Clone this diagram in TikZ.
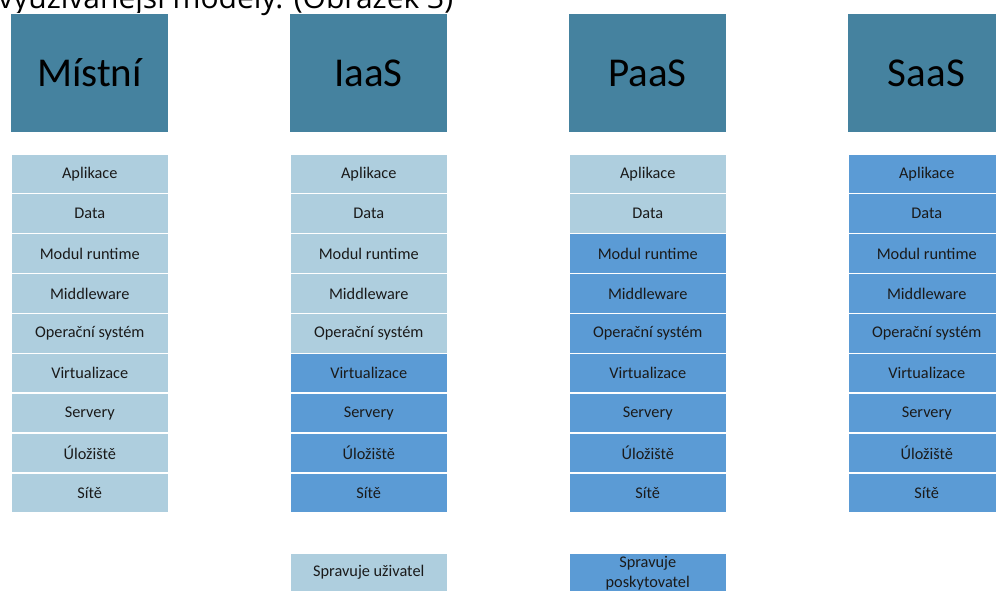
\documentclass[tikz,border=0pt]{standalone}
\usepackage{fontspec}
\setmainfont{Carlito}
\newfontfamily\titlefont{Open Sans}
\definecolor{hdr}{HTML}{45829F}
\definecolor{lite}{HTML}{AECEDE}
\definecolor{blu}{HTML}{5B9BD5}
\definecolor{txt}{HTML}{1A1A1A}
\tikzset{
  hdrbox/.style={fill=hdr, draw=white, line width=0.8pt, minimum width=158pt, minimum height=119pt, inner sep=0pt, font=\fontsize{41}{45}\selectfont, text=black, anchor=north west},
  cell/.style={draw=white, line width=1.5pt, minimum width=158pt, minimum height=39.9pt, inner sep=0pt, font=\fontsize{16.3}{18}\selectfont, text=txt, anchor=north west, align=center},
  lcell/.style={cell, fill=lite},
  bcell/.style={cell, fill=blu},
}
\begin{document}
\begin{tikzpicture}[x=1pt,y=-1pt]
\useasboundingbox (0,0) rectangle (996,590);
\clip (0,0) rectangle (996,590);
\node[anchor=base west, inner sep=0pt, font=\titlefont\fontsize{30}{34}\selectfont, text=black] (title) at (-2,8) {využívanější modely. (Obrázek 3)};
% headers
\node[hdrbox] (h1) at (10,13) {Místní};
\node[hdrbox] (h2) at (289,13) {IaaS};
\node[hdrbox] (h3) at (568,13) {PaaS};
\node[hdrbox] (h4) at (847,13) {SaaS};
% Mistni
\foreach \t [count=\i from 0] in {Aplikace,Data,Modul runtime,Middleware,Operační systém,Virtualizace,Servery,Úložiště,Sítě}{
  \node[lcell] (a\i) at (10,153+39.9*\i) {\t};
}
% IaaS
\foreach \t [count=\i from 0] in {Aplikace,Data,Modul runtime,Middleware,Operační systém}{
  \node[lcell] (b\i) at (289,153+39.9*\i) {\t};
}
\foreach \t [count=\i from 5] in {Virtualizace,Servery,Úložiště,Sítě}{
  \node[bcell] (b\i) at (289,153+39.9*\i) {\t};
}
% PaaS
\foreach \t [count=\i from 0] in {Aplikace,Data}{
  \node[lcell] (c\i) at (568,153+39.9*\i) {\t};
}
\foreach \t [count=\i from 2] in {Modul runtime,Middleware,Operační systém,Virtualizace,Servery,Úložiště,Sítě}{
  \node[bcell] (c\i) at (568,153+39.9*\i) {\t};
}
% SaaS
\foreach \t [count=\i from 0] in {Aplikace,Data,Modul runtime,Middleware,Operační systém,Virtualizace,Servery,Úložiště,Sítě}{
  \node[bcell] (d\i) at (847,153+39.9*\i) {\t};
}
% legend
\node[lcell] (leg1) at (289,552) {Spravuje uživatel};
\node[bcell, font=\fontsize{16.3}{20}\selectfont] (leg2) at (568,552) {Spravuje\\poskytovatel};
\end{tikzpicture}
\end{document}
